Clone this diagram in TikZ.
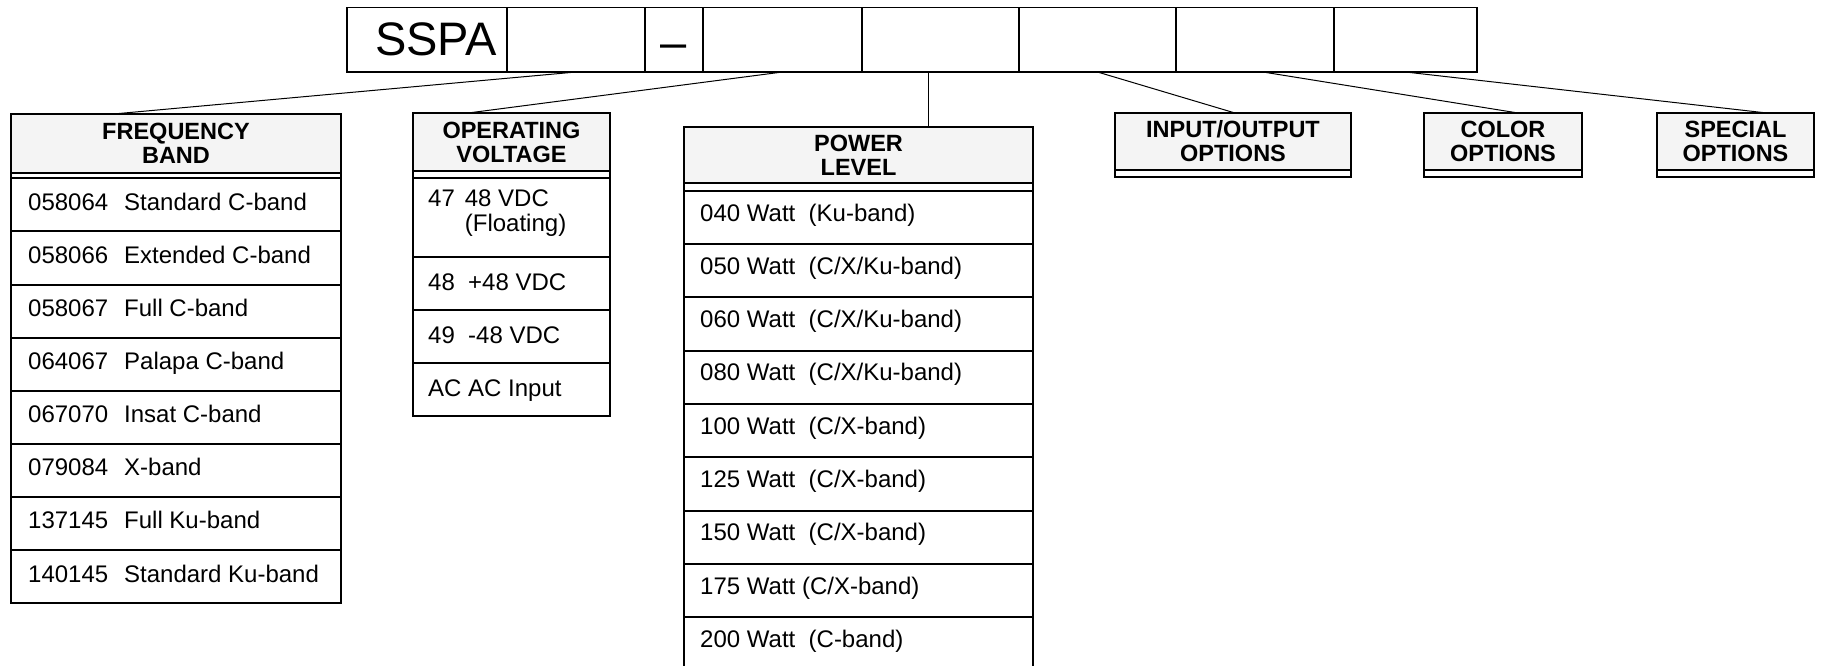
\documentclass[tikz,border=0pt]{standalone}
\usepackage{fontspec}
\setmainfont{Liberation Sans}
\definecolor{hdrgray}{RGB}{244,244,244}
\tikzset{
  barcell/.style={draw, line width=1.2pt, minimum height=64.5pt, inner sep=0pt, outer sep=0pt,
    anchor=north west, font=\fontsize{47}{47}\selectfont},
  hdr/.style={draw, line width=2pt, fill=hdrgray, inner sep=0pt, outer sep=0pt, anchor=north west,
    align=center, font=\bfseries\fontsize{23.5}{24}\selectfont},
  boxline/.style={line width=2pt},
  lead/.style={line width=1pt},
  entry/.style={anchor=base west, inner sep=0pt, font=\fontsize{24}{27}\selectfont}
}
\begin{document}
\begin{tikzpicture}[x=1pt,y=-1pt]
\useasboundingbox (0,0) rectangle (1826,665);
\clip (0,0) rectangle (1826,665);

% model number bar
\node[barcell, minimum width=160pt] (cellsspa) at (347,7.5) {\hspace*{18pt}SSPA};
\foreach \nm/\xa/\xb/\txt in {band/507/645/, dash/645/703/\raisebox{-19pt}[0pt][0pt]{--},
                              volt/703/862/, power/862/1019/,
                              io/1019/1176/, color/1176/1334/, special/1334/1477/}
  \node[barcell, minimum width={\xb-\xa}] (cell\nm) at (\xa,7.5) {\txt};

% frequency band
\node[hdr, minimum width=330pt, minimum height=58.4pt] (hband) at (11,114.3) {FREQUENCY\\BAND};
\draw[boxline] (11,172.7) rectangle (341,178.3);
\foreach \code/\txt [count=\i from 0] in {058064/Standard C-band, 058066/Extended C-band,
    058067/Full C-band, 064067/Palapa C-band, 067070/Insat C-band, 079084/X-band,
    137145/Full Ku-band, 140145/Standard Ku-band}
{
  \draw[boxline] (11,178.3+53.1*\i) rectangle (341,231.4+53.1*\i);
  \node[entry] at (28,210.3+53.1*\i) {\makebox[96pt][l]{\code}\txt};
}

% operating voltage
\node[hdr, minimum width=197pt, minimum height=58pt] (hvolt) at (413,113) {OPERATING\\VOLTAGE};
\draw[boxline] (413,171) rectangle (610,177.7);
\draw[boxline] (413,177.7) rectangle (610,256.7);
\node[entry] at (428,206) {47\hspace{10pt}48 VDC};
\node[entry] at (428,231) {\phantom{47}\hspace{10pt}(Floating)};
\foreach \txt [count=\i from 0] in {48\ \ +48 VDC, 49\ \ -48 VDC, AC AC Input}
{
  \draw[boxline] (413,256.7+53.1*\i) rectangle (610,309.8+53.1*\i);
  \node[entry] at (428,290+53.1*\i) {\txt};
}

% power level
\node[hdr, minimum width=349pt, minimum height=56.6pt] (hpower) at (684,126.7) {POWER\\LEVEL};
\draw[boxline] (684,183.3) rectangle (1033,190.7);
\foreach \txt [count=\i from 0] in {040 Watt\ \ (Ku-band), 050 Watt\ \ (C/X/Ku-band),
    060 Watt\ \ (C/X/Ku-band), 080 Watt\ \ (C/X/Ku-band), 100 Watt\ \ (C/X-band),
    125 Watt\ \ (C/X-band), 150 Watt\ \ (C/X-band), 175 Watt (C/X-band), 200 Watt\ \ (C-band)}
{
  \draw[boxline] (684,190.7+53.3*\i) rectangle (1033,244+53.3*\i);
  \node[entry] at (700,221+53.3*\i) {\txt};
}

% option boxes
\node[hdr, minimum width=236pt, minimum height=57pt] (hio) at (1115,113) {INPUT/OUTPUT\\OPTIONS};
\draw[boxline] (1115,170) rectangle (1351,177.3);
\node[hdr, minimum width=158pt, minimum height=57pt] (hcolor) at (1424,113) {COLOR\\OPTIONS};
\draw[boxline] (1424,170) rectangle (1582,177.3);
\node[hdr, minimum width=157pt, minimum height=57pt] (hspecial) at (1657,113) {SPECIAL\\OPTIONS};
\draw[boxline] (1657,170) rectangle (1814,177.3);

% leaders
\draw[lead] (cellband.south) -- ([xshift=99pt]hband.north west);
\draw[lead] (cellvolt.south) -- ([xshift=55pt]hvolt.north west);
\draw[lead] ([xshift=66pt]cellpower.south west) -- ([xshift=66pt]cellpower.south west |- hpower.north);
\draw[lead] (cellio.south) -- ([xshift=120pt]hio.north west);
\draw[lead] ([xshift=87pt]cellcolor.south west) -- ([xshift=94pt]hcolor.north west);
\draw[lead] (cellspecial.south) -- ([xshift=110pt]hspecial.north west);
\end{tikzpicture}
\end{document}
